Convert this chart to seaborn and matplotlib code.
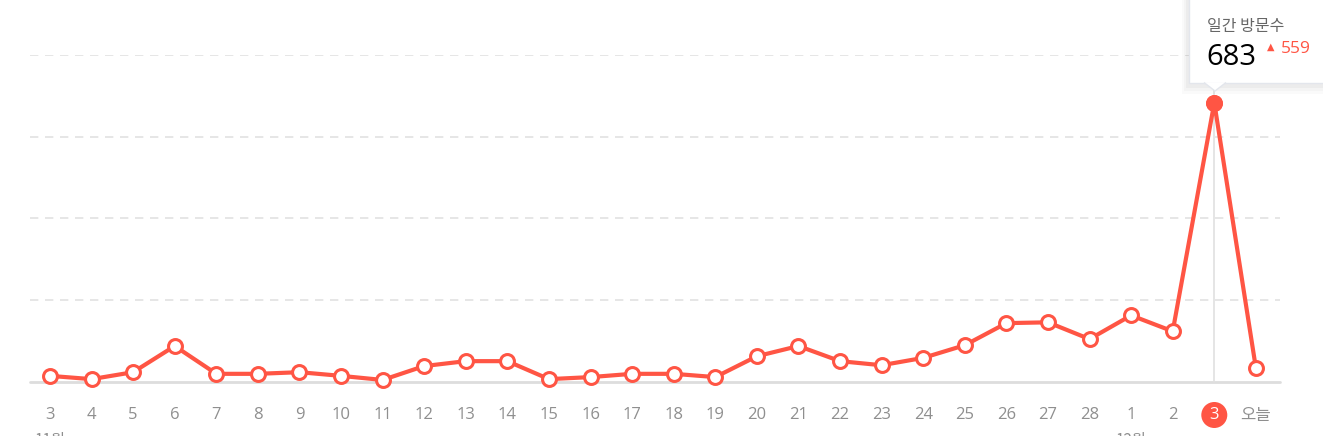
import numpy as np
import pandas as pd
import seaborn as sns
import matplotlib.pyplot as plt
from matplotlib.patches import FancyBboxPatch, Polygon

# daily visits, Nov 3 -> today
days = ['3', '4', '5', '6', '7', '8', '9', '10', '11', '12', '13', '14', '15', '16',
        '17', '18', '19', '20', '21', '22', '23', '24', '25', '26', '27', '28',
        '1', '2', '3', '오늘']
visits = [15, 7, 24, 88, 20, 20, 24, 15, 5, 39, 51, 51, 7, 12,
          20, 20, 12, 63, 88, 51, 41, 59, 90, 144, 146, 105,
          163, 124, 683, 34]
grid_vals = [200, 400, 600, 800]
months = ['11월', '12월']
month_pos = [0, 26]
sel = 28
tip_title = '일간 방문수'
tip_diff = 559

RED = '#ff5544'
W, H = 1323, 436

sns.set_theme(style='white')
plt.rcParams['font.family'] = ['Open Sans', 'Noto Sans CJK KR', 'DejaVu Sans']
KR = ['Noto Sans CJK KR', 'DejaVu Sans']

df = pd.DataFrame({'idx': np.arange(len(days)), 'visits': visits})

fig = plt.figure(figsize=(W / 100, H / 100), dpi=100)
ax = fig.add_axes([30 / W, 1 - 382 / H, 1250 / W, 327 / H])

for g in grid_vals:
    ax.axhline(g, color='#e2e2e2', lw=1.2, ls=(0, (5, 4)), zorder=0)
ax.axhline(0, color='#dddddd', lw=2, zorder=1, clip_on=False)
ax.axvline(sel, ymin=0, ymax=1.05, color='#e0e0e0', lw=1.2, zorder=1, clip_on=False)

sns.lineplot(data=df, x='idx', y='visits', ax=ax, color=RED, lw=3,
             marker='o', markersize=10, markerfacecolor='white',
             markeredgecolor=RED, markeredgewidth=2.2, clip_on=False, zorder=3)
ax.plot(sel, visits[sel], 'o', color=RED, markersize=11, zorder=4, clip_on=False)

ax.set_xlim(-0.48, 29.58)
ax.set_ylim(0, 800)
ax.set_yticks([])
ax.set_xticks(df['idx'])
ax.set_xticklabels(days)
ax.tick_params(axis='x', length=0, pad=18, labelsize=12, labelcolor='#8f8f8f')
ax.set_xlabel('')
ax.set_ylabel('')
for s in ax.spines.values():
    s.set_visible(False)

lab = ax.get_xticklabels()[sel]
lab.set_color('white')
lab.set_bbox(dict(boxstyle='circle,pad=0.3', facecolor=RED, edgecolor='none'))
ax.get_xticklabels()[-1].set_family(KR)

for m, p in zip(months, month_pos):
    ax.annotate(m, xy=(p, 0), xycoords=('data', 'axes fraction'),
                xytext=(0, -50), textcoords='offset pixels',
                ha='center', va='top', fontsize=11, color='#8f8f8f',
                family=KR, annotation_clip=False)

# tooltip box
def fx(px):
    return px / W

def fy(py):
    return 1 - py / H

for i, a in enumerate([0.03, 0.025, 0.02]):
    sh = FancyBboxPatch((fx(1186 - 2 * i), fy(88 + 3 * i)), fx(160), (88 + 3 * i) / H,
                        boxstyle='square,pad=0', transform=fig.transFigure,
                        facecolor='black', edgecolor='none', alpha=a, zorder=5)
    fig.patches.append(sh)
box = FancyBboxPatch((fx(1189), fy(83)), fx(150), 86 / H, boxstyle='square,pad=0',
                     transform=fig.transFigure, facecolor='white',
                     edgecolor='#e3e6ec', lw=1, zorder=6)
fig.patches.append(box)
tri = Polygon([(fx(1204), fy(82.5)), (fx(1215), fy(91)), (fx(1226), fy(82.5))],
              closed=False, transform=fig.transFigure, facecolor='white',
              edgecolor='#e3e6ec', lw=1, zorder=7)
fig.patches.append(tri)

fig.text(fx(1207), fy(27), tip_title, fontsize=11.5, color='#666666',
         va='center', ha='left', family=KR, zorder=8)
fig.text(fx(1206), fy(57), str(visits[sel]), fontsize=21, color='black',
         va='center', ha='left', zorder=8)
fig.text(fx(1267), fy(47), '▲', fontsize=7, color=RED,
         va='center', ha='left', family=['DejaVu Sans'], zorder=8)
fig.text(fx(1281), fy(49), str(tip_diff), fontsize=12.5, color=RED,
         va='center', ha='left', zorder=8)

fig.savefig('out.png', dpi=100)
